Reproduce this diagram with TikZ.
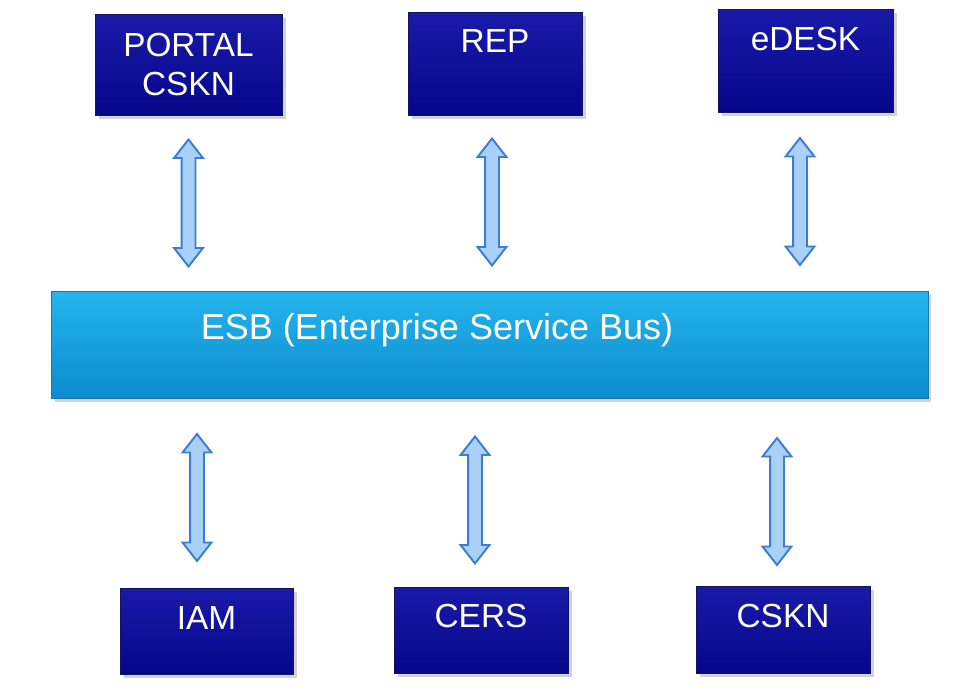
\documentclass[tikz,border=0pt]{standalone}
\usepackage{fontspec}
\setmainfont{Liberation Sans}
\usepackage{tikz}
\usetikzlibrary{shapes.arrows, positioning, calc, shadows}
\definecolor{apptop}{HTML}{1A1AAA}
\definecolor{appbot}{HTML}{06068A}
\definecolor{appedge}{HTML}{14145E}
\definecolor{esbtop}{HTML}{25B4EC}
\definecolor{esbbot}{HTML}{0B8CCE}
\definecolor{esbedge}{HTML}{1B76A6}
\definecolor{linkfill}{HTML}{A9D1F7}
\definecolor{linkline}{HTML}{3A7CD6}

\begin{document}
\begin{tikzpicture}[
    x=0.02cm, y=-0.02cm,
    app/.style={rectangle, draw=appedge, top color=apptop, bottom color=appbot, line width=0.4pt, text=white, align=center, inner sep=0pt, font=\fontsize{19}{22.2}\selectfont, drop shadow={shadow xshift=2pt, shadow yshift=-2pt, opacity=0.35}},
    lbl/.style={text height=0.48cm, text depth=#1},
    bus/.style={rectangle, draw=esbedge, top color=esbtop, bottom color=esbbot, line width=0.4pt, text=white, inner sep=0pt, font=\fontsize{20.5}{24}\selectfont, text height=0.52cm, text depth=0.74cm, drop shadow={shadow xshift=2pt, shadow yshift=-2pt, opacity=0.35}},
    link/.style={double arrow, rotate=90, draw=linkline, fill=linkfill, line width=1.1pt, minimum height=2.54cm, minimum width=0pt, inner sep=0.12cm, double arrow head extend=0.15cm, double arrow tip angle=76}
]
\useasboundingbox (0,0) rectangle (976,692);
\fill[white] (0,0) rectangle (976,692);

\node[app, minimum width=3.74cm, minimum height=2.02cm] (portal) at (188.5,64.5) {PORTAL\\CSKN};
\node[app, lbl=0.92cm, minimum width=3.48cm, minimum height=2.06cm] (rep) at (495,63.5) {REP};
\node[app, lbl=0.86cm, minimum width=3.5cm, minimum height=2.06cm] (edesk) at (805.5,60.5) {eDESK};

\node[bus, minimum width=17.54cm, minimum height=2.14cm] (esb) at (489.5,344.5) {ESB (Enterprise Service Bus)\hspace*{2.1cm}\mbox{}};

\node[app, lbl=0.54cm, minimum width=3.46cm, minimum height=1.72cm] (iam) at (206.5,631) {IAM};
\node[app, lbl=0.58cm, minimum width=3.48cm, minimum height=1.72cm] (cers) at (481,630) {CERS};
\node[app, lbl=0.58cm, minimum width=3.48cm, minimum height=1.74cm] (cskn) at (783,629.5) {CSKN};

\node[link] (portal-esb) at ($(portal.south)!.5!(portal.south |- esb.north)$) {};
\node[link] (rep-esb) at ($(rep.south)!.5!(rep.south |- esb.north) + (-3,-1)$) {};
\node[link] (edesk-esb) at ($(edesk.south)!.5!(edesk.south |- esb.north) + (-5.5,0)$) {};
\node[link] (esb-iam) at ($(iam.north)!.5!(iam.north |- esb.south) + (-9.5,4.5)$) {};
\node[link] (esb-cers) at ($(cers.north)!.5!(cers.north |- esb.south) + (-6,7.5)$) {};
\node[link] (esb-cskn) at ($(cskn.north)!.5!(cskn.north |- esb.south) + (-6,9.5)$) {};
\end{tikzpicture}
\end{document}
